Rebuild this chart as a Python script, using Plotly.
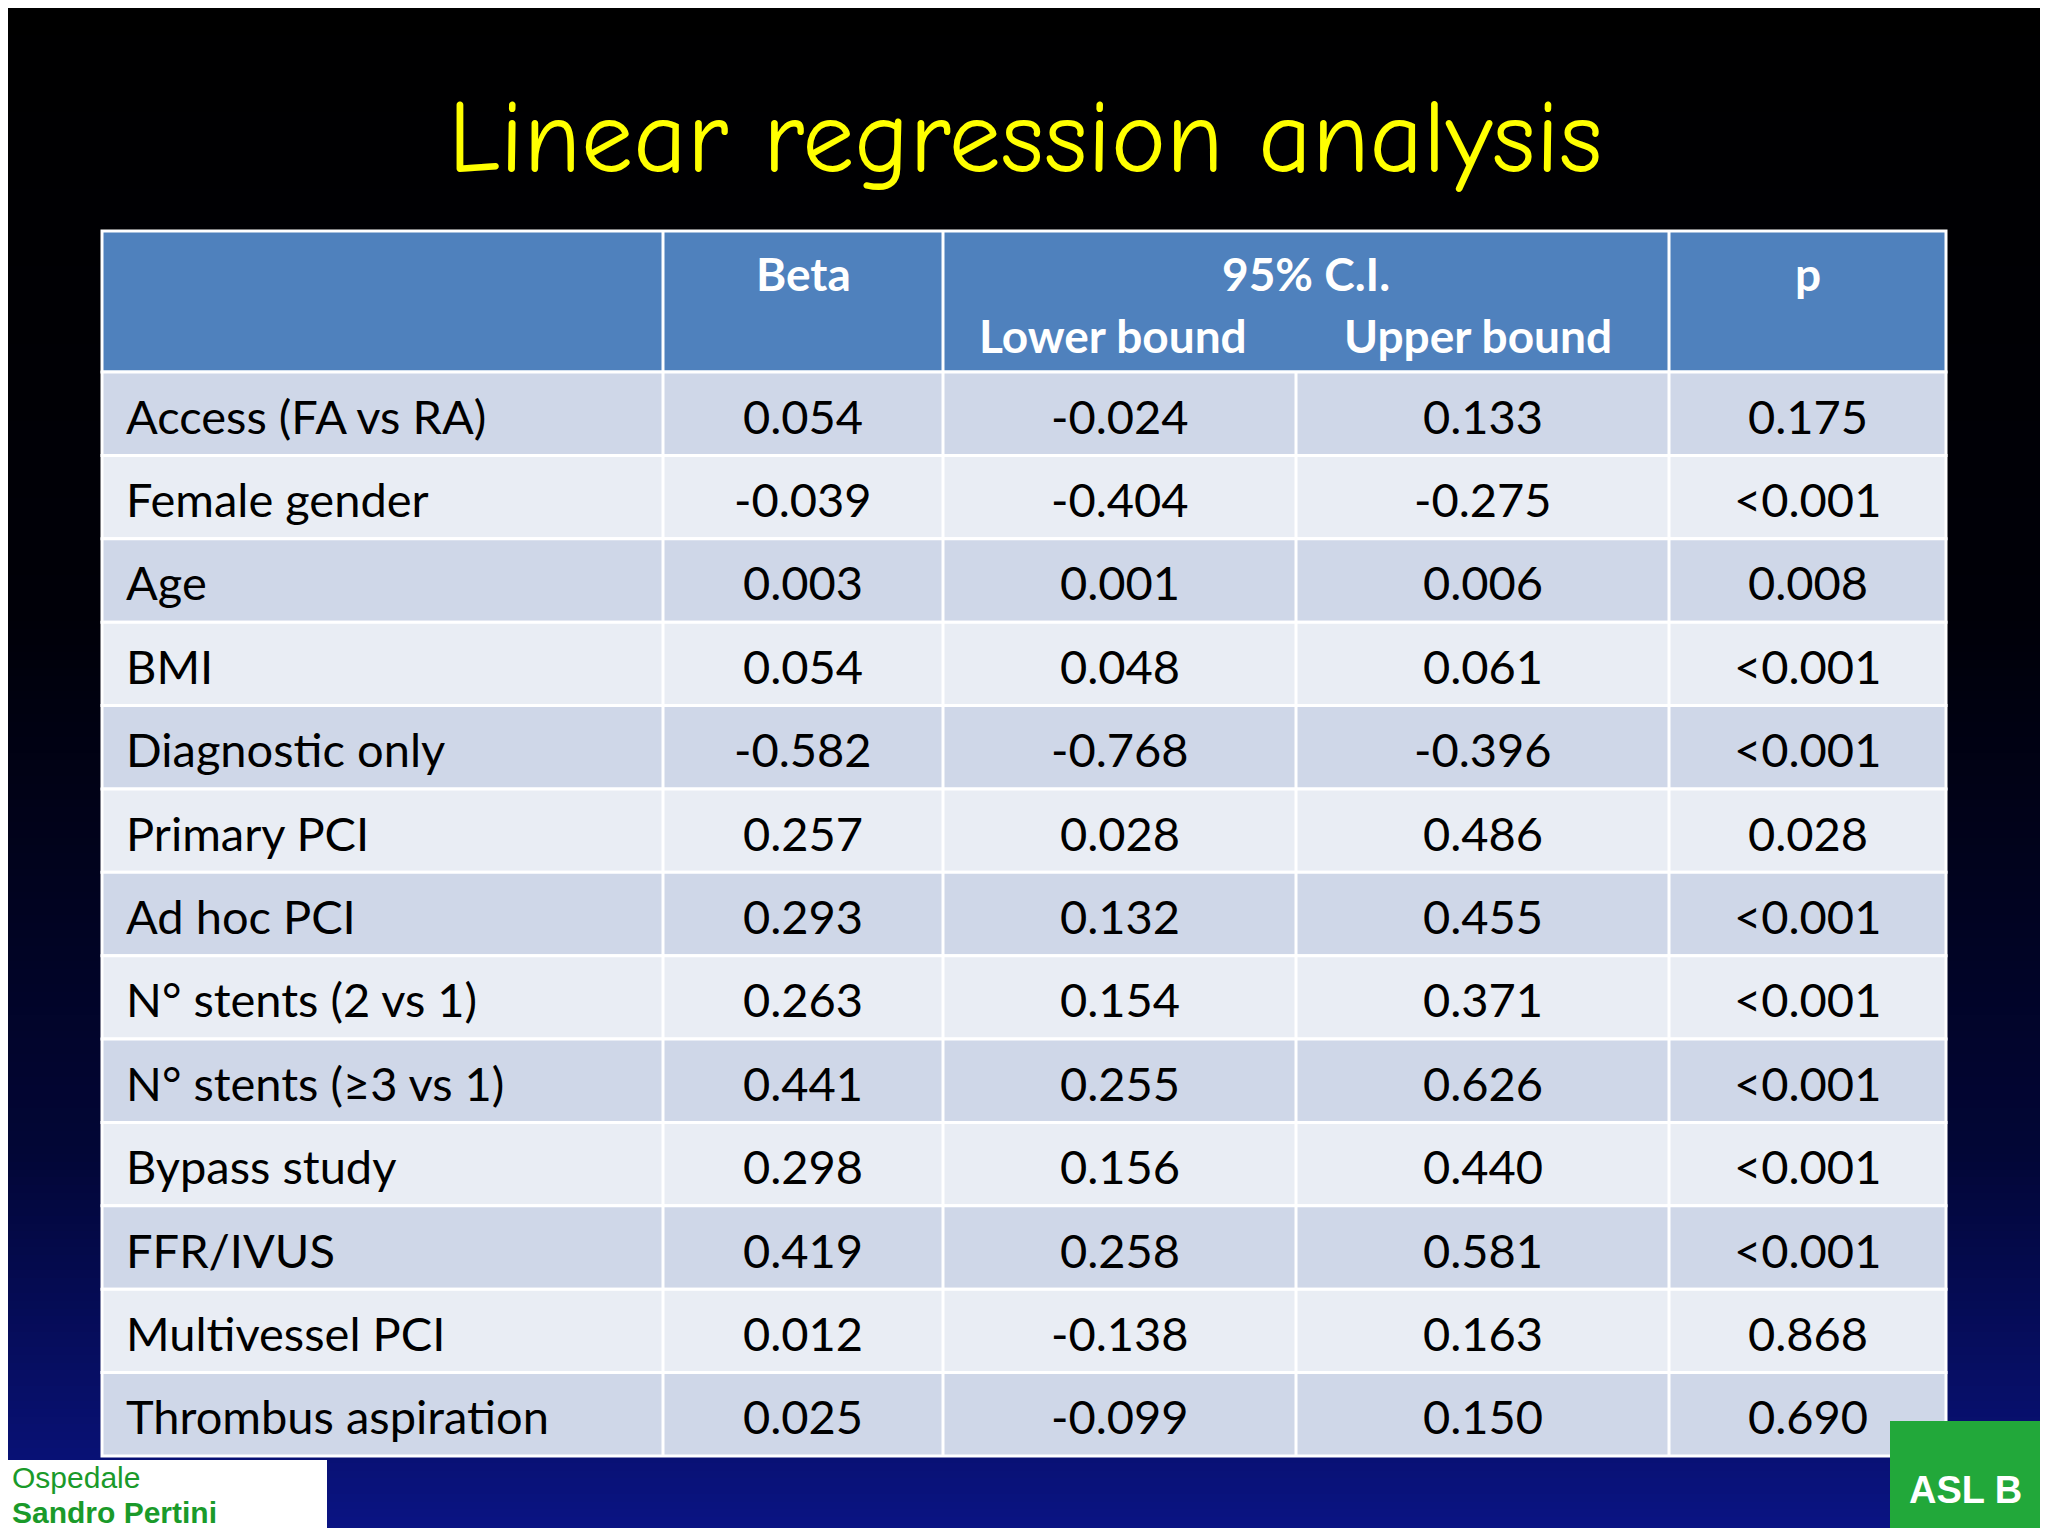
import numpy as np
import plotly.graph_objects as go

title = "Linear regression analysis"
variables = ["Access (FA vs RA)", "Female gender", "Age", "BMI", "Diagnostic only",
             "Primary PCI", "Ad hoc PCI", "N° stents (2 vs 1)", "N° stents (≥3 vs 1)",
             "Bypass study", "FFR/IVUS", "Multivessel PCI", "Thrombus aspiration"]
beta = ["0.054", "-0.039", "0.003", "0.054", "-0.582", "0.257", "0.293", "0.263", "0.441",
        "0.298", "0.419", "0.012", "0.025"]
lower = ["-0.024", "-0.404", "0.001", "0.048", "-0.768", "0.028", "0.132", "0.154", "0.255",
         "0.156", "0.258", "-0.138", "-0.099"]
upper = ["0.133", "-0.275", "0.006", "0.061", "-0.396", "0.486", "0.455", "0.371", "0.626",
         "0.440", "0.581", "0.163", "0.150"]
pval = ["0.175", "<0.001", "0.008", "<0.001", "<0.001", "0.028", "<0.001", "<0.001", "<0.001",
        "<0.001", "<0.001", "0.868", "0.690"]

W, H = 2048, 1536
M = 8  # page body margin
col_edges = [102, 663, 943, 1296, 1669, 1946]
head_top, head_bot, tab_bot = 231, 372, 1456
n = len(variables)
rh = (tab_bot - head_bot) / n
FONT = "Lato"

fig = go.Figure()
gy = np.linspace(0, H, 200)
fig.add_trace(go.Heatmap(x=[0, W], y=gy, z=[[v, v] for v in gy], showscale=False,
                         colorscale=[[0, "#000000"], [0.4, "#000008"], [0.75, "#020636"], [1, "#0a1485"]],
                         hoverinfo="skip"))
shapes, ann = [], []
line = dict(color="white", width=3)
shapes.append(dict(type="rect", x0=col_edges[0], x1=col_edges[-1], y0=head_top, y1=head_bot,
                   fillcolor="#4f81bd", line=line))
for i in [1, 2, 4]:
    shapes.append(dict(type="line", x0=col_edges[i], x1=col_edges[i], y0=head_top, y1=head_bot, line=line))
hfont = dict(family=FONT, size=46, color="white")
ann += [dict(x=(col_edges[1]+col_edges[2])/2, y=273, text="<b>Beta</b>", font=hfont),
        dict(x=(col_edges[2]+col_edges[4])/2, y=273, text="<b>95% C.I.</b>", font=hfont),
        dict(x=(col_edges[2]+col_edges[3])/2 - 7, y=335, text="<b>Lower bound</b>", font=hfont),
        dict(x=(col_edges[3]+col_edges[4])/2 - 5, y=335, text="<b>Upper bound</b>", font=hfont),
        dict(x=(col_edges[4]+col_edges[5])/2, y=273, text="<b>p</b>", font=hfont)]
bfont = dict(family=FONT, size=47, color="black")
cols = [variables, beta, lower, upper, pval]
for r in range(n):
    y0 = head_bot + r * rh
    shapes.append(dict(type="rect", x0=col_edges[0], x1=col_edges[-1], y0=y0, y1=y0 + rh,
                       fillcolor="#cfd7e8" if r % 2 == 0 else "#e9edf4", line=line))
    for c in range(5):
        if c == 0:
            ann.append(dict(x=col_edges[0] + 22, y=y0 + rh/2 + 2, text=cols[c][r], font=bfont, xanchor="left"))
        else:
            ann.append(dict(x=(col_edges[c]+col_edges[c+1])/2, y=y0 + rh/2 + 2, text=cols[c][r], font=bfont))
for i in range(1, 5):
    shapes.append(dict(type="line", x0=col_edges[i], x1=col_edges[i], y0=head_bot, y1=tab_bot, line=line))
ann.append(dict(x=1025, y=137, text=title, font=dict(family="Comic Neue, Comic Sans MS, Lato", size=104, color="#ffff00")))
shapes.append(dict(type="rect", x0=0, x1=327, y0=1460, y1=H, fillcolor="white", line=dict(width=0)))
ann.append(dict(x=10, y=1477, text="Ospedale", xanchor="left", font=dict(family="Liberation Sans", size=30, color="#1a9a2a")))
ann.append(dict(x=10, y=1512, text="<b>Sandro Pertini</b>", xanchor="left", font=dict(family="Liberation Sans", size=30, color="#1a9a2a")))
shapes.append(dict(type="rect", x0=1890, x1=W, y0=1421, y1=H, fillcolor="#22a83a", line=dict(width=0)))
ann.append(dict(x=1965, y=1490, text="<b>ASL B</b>", font=dict(family="Liberation Sans", size=38, color="white")))
for a in ann:
    a.update(xref="x", yref="y", showarrow=False)
    a.setdefault("xanchor", "center")
    a["yanchor"] = "middle"

fig.update_layout(width=W - 2 * M, height=H - 2 * M, margin=dict(l=0, r=0, t=0, b=0),
                  shapes=shapes, annotations=ann,
                  xaxis=dict(range=[M, W - M], visible=False, fixedrange=True),
                  yaxis=dict(range=[H - M, M], visible=False, fixedrange=True),
                  plot_bgcolor="black", paper_bgcolor="black")
fig.write_html("out.html")
